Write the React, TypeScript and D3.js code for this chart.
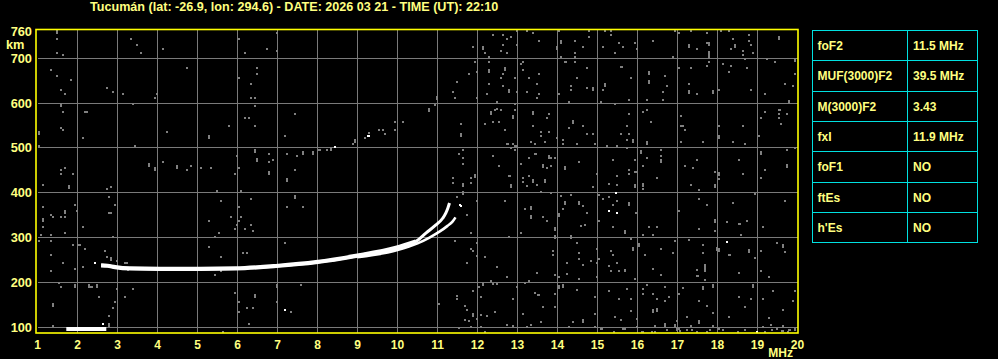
import React from "react";
import * as d3 from "d3";

const titleText = "Tucumán (lat: -26.9, lon: 294.6) - DATE: 2026 03 21 - TIME (UT): 22:10";
const freqTicks = [1, 2, 3, 4, 5, 6, 7, 8, 9, 10, 11, 12, 13, 14, 15, 16, 17, 18, 19, 20];
const heightTicks = [100, 200, 300, 400, 500, 600, 700, 760];
const gridHeights = [100, 200, 300, 400, 500, 600, 700];
const gridFreqs = [2, 3, 4, 5, 6, 7, 8, 9, 10, 11, 12, 13, 14, 15, 16, 17, 18, 19];

const paramNames = ["foF2", "MUF(3000)F2", "M(3000)F2", "fxI", "foF1", "ftEs", "h'Es"];
const paramValues = ["11.5 MHz", "39.5 MHz", "3.43", "11.9 MHz", "NO", "NO", "NO"];

// O trace (MHz, km)
const oTraceFreq = [2.59, 2.75, 2.94, 3.31, 4.06, 5.06, 5.96, 6.96, 7.96, 8.96, 9.96, 10.46, 10.71, 10.96, 11.13, 11.21, 11.26, 11.3];
const oTraceHeight = [238, 237, 234, 231, 230, 230, 231, 236.5, 245, 259, 277, 291, 310, 328, 343, 355, 366, 377];
// X trace
const xTraceFreq = [9.0, 10.0, 10.5, 10.8, 11.05, 11.25, 11.38, 11.45];
const xTraceHeight = [256, 272, 287, 300, 313, 326, 336, 345];
// E trace
const eTraceFreq = [1.72, 2.72];
const eTraceHeight = [96, 96];

const whiteDots: [number, number][] = [
  [2.44, 244], [7.19, 138], [2.64, 107], [8.43, 503], [9.25, 527], [9.28, 527], [15.28, 360], [15.48, 355],
  [18.23, 290], [18.98, 90], [15.46, 400], [11.57, 373], [11.59, 370],
];

const noiseDots: [number, number][] = [
  [1.49,743],[1.49,711],[1.63,707],[3.34,743],[3.49,729],[3.59,711],[4.13,720],[6.03,743],[6.18,711],[6.73,720],[6.98,756],[6.98,716],[1.33,674],[1.49,661],[1.84,652],[1.59,630],[1.69,620],[2.73,633],[2.89,625],[3.14,620],[3.98,620],[3.94,611],[4.74,678],[6.03,656],[6.34,642],[6.48,678],[6.48,665],[6.34,611],[6.44,611],[6.44,593],[1.64,580],[2.19,580],[2.23,580],[3.39,598],[6.18,566],[6.28,566],[6.44,548],[5.78,548],[7.44,575],[1.59,544],[1.64,540],[2.14,522],[4.24,535],[7.19,526],[3.44,504],[1.03,504],[9.94,557],[10.14,557],[9.54,540],[9.64,540],[9.69,531],[9.94,540],[8.89,508],[8.03,495],[8.06,495],[8.23,495],[7.24,486],[7.48,482],[6.78,486],[6.89,473],[6.78,468],[5.98,482],[4.13,468],[4.84,459],[4.74,450],[5.09,455],[5.34,455],[6.04,455],[5.94,441],[1.59,450],[1.69,455],[1.59,441],[1.89,441],[7.44,450],[7.24,430],[9.19,523],[9.29,533],
  [1.14,417],[2.74,408],[2.84,413],[5.49,404],[6.09,404],[7.24,426],[2.79,390],[2.94,373],[5.59,381],[6.34,386],[7.24,368],[7.64,368],[6.04,368],[1.14,368],[1.94,373],[1.99,359],[1.34,350],[1.39,346],[1.59,346],[1.69,346],[2.79,355],[2.83,355],[5.84,346],[6.09,346],[5.29,337],[6.04,337],[5.99,328],[6.34,328],[6.19,319],[6.39,315],[5.94,319],[2.14,323],[1.14,323],[1.09,306],[1.34,306],[1.69,310],[5.54,310],[5.44,301],[2.89,301],[7.19,288],[1.04,292],[1.34,292],[2.02,283],[2.06,283],[1.89,283],[2.19,274],[5.29,279],[2.69,270],[6.14,265],[6.24,265],[5.59,257],[1.34,261],[2.74,257],[1.64,243],[2.14,234],[1.94,230],[1.34,225],[5.44,216],[5.59,225],[1.54,198],[1.59,190],[2.34,190],[2.37,190],[2.99,185],[3.39,185],[7.59,194],[5.94,176],[2.54,167],[3.19,167],[2.94,156],[2.89,143],[6.04,156],[6.99,156],[6.24,143],[6.39,143],[6.04,134],[7.34,134],[2.79,125],[6.29,107],[1.39,102],[5.64,89],[2.99,248],[3.19,243],[3.23,243],[3.26,228],
  [12.39,752],[12.64,752],[12.84,747],[12.99,761],[12.74,743],[12.64,729],[12.99,729],[11.89,725],[12.19,711],[12.29,703],[12.59,716],[12.74,711],[13.24,761],[13.39,756],[13.54,738],[14.04,761],[14.44,738],[14.44,711],[14.44,703],[14.09,703],[14.79,761],[14.79,747],[14.64,725],[15.19,761],[15.34,761],[15.34,752],[15.14,725],[15.54,734],[15.64,725],[15.94,734],[15.99,720],[15.44,711],[16.39,738],[16.89,703],[16.94,761],[17.04,756],[17.34,761],[17.74,756],[17.49,720],[17.74,734],[17.79,691],[18.09,761],[18.29,761],[18.39,743],[18.34,720],[18.79,752],[18.79,738],[18.84,729],[18.64,716],[18.64,707],[18.89,711],[18.69,698],[11.94,691],[11.79,665],[11.99,669],[11.49,647],[11.39,624],[11.44,611],[10.94,595],[12.29,691],[12.64,665],[12.59,656],[12.94,656],[12.29,642],[12.64,638],[12.24,620],[11.99,611],[12.49,602],[12.99,624],[13.14,691],[13.09,687],[13.14,673],[13.29,656],[13.54,665],[13.49,642],[13.54,620],[13.49,611],[13.24,624],[14.19,691],[14.22,691],[14.44,691],[14.74,678],[14.49,656],[14.34,638],[14.34,629],[14.04,620],[14.74,633],[14.29,602],[15.14,629],[15.09,602],[15.59,680],[15.62,680],[15.84,656],[15.79,607],[16.69,660],[16.74,638],[16.64,624],[16.64,607],[16.24,607],[17.04,678],[17.34,678],[17.74,682],[17.29,642],[17.49,620],[18.04,629],[18.14,687],[18.29,669],[18.34,682],[18.74,678],[18.84,629],[19.19,620],[19.24,698],[19.44,691],[19.94,665],[19.69,642],[19.89,638],[19.19,580],[19.09,566],[19.54,584],[19.57,584],[19.54,575],[19.54,566],[19.74,575],[19.59,553],[19.04,526],[18.64,548],[18.69,508],[18.04,548],[18.39,513],[17.64,513],[17.09,571],[17.09,548],[17.13,548],[17.19,540],[17.09,513],[16.34,557],[16.24,584],[16.14,580],[15.79,575],[15.74,548],[15.59,531],[15.74,517],[15.79,531],[15.49,504],[15.24,504],[15.44,598],[14.94,508],[14.89,531],[14.74,531],[14.49,508],[14.64,548],[14.29,544],[14.14,517],[14.14,508],[13.99,522],[13.79,575],[13.74,566],[13.39,548],[13.59,535],[13.59,526],[13.79,535],[13.69,513],[13.44,508],[13.34,513],[12.94,598],[12.94,584],[12.59,584],[12.49,586],[12.44,584],[12.39,557],[12.54,557],[12.19,553],[12.69,540],[12.74,508],[12.77,508],[12.89,508],[12.94,504],[12.84,499],[12.99,504],[11.59,553],[11.64,495],[11.54,486],[11.64,477],[11.64,464],[11.39,432],[11.84,432],[12.39,482],[12.54,459],[12.79,437],[12.82,437],[12.94,495],[13.09,464],[13.14,432],[13.29,477],[13.44,486],[13.47,486],[13.29,437],[13.39,428],[13.74,455],[13.84,459],[13.84,477],[13.94,477],[13.69,428],[14.54,468],[14.99,441],[15.39,473],[15.49,437],[15.79,450],[15.79,441],[15.94,473],[15.94,446],[15.97,446],[15.74,499],[16.24,477],[16.14,459],[16.59,495],[16.59,482],[16.49,432],[17.19,459],[17.39,455],[17.49,473],[17.94,446],[18.04,430],[18.54,473],[18.64,441],[19.19,450],[19.09,432],[19.74,495],[19.94,499],
  [11.39,422],[11.84,422],[11.49,390],[11.74,350],[11.84,310],[11.44,292],[11.84,274],[11.89,270],[11.99,259],[12.19,257],[11.74,243],[12.49,234],[11.99,381],[11.99,288],[13.14,424],[13.24,415],[13.39,424],[13.49,417],[13.69,424],[13.59,402],[13.84,399],[12.69,381],[13.19,364],[13.64,346],[13.74,337],[13.09,310],[12.79,301],[14.14,364],[14.09,393],[14.34,395],[14.74,355],[14.64,370],[14.89,413],[14.59,326],[14.69,328],[14.49,288],[13.89,270],[14.24,243],[14.54,265],[14.54,252],[14.84,248],[14.64,239],[15.04,395],[15.14,386],[15.29,390],[15.29,419],[15.49,417],[15.39,373],[15.49,381],[16.14,408],[15.96,355],[15.39,323],[15.04,337],[15.34,270],[15.39,261],[14.99,274],[15.04,252],[15.29,236],[15.34,225],[15.54,225],[15.69,225],[15.84,297],[16.14,306],[16.29,323],[16.49,323],[16.39,306],[16.59,274],[16.19,261],[16.89,265],[16.94,292],[17.04,359],[17.34,417],[17.54,406],[17.54,386],[17.74,373],[17.54,319],[17.29,294],[17.64,283],[17.94,315],[18.24,335],[18.39,377],[18.54,330],[18.57,330],[18.74,337],[18.59,306],[18.94,397],[19.14,323],[19.69,381],[19.49,288],[19.69,268],[19.09,270],[18.94,254],[19.29,212],[19.09,225],[18.54,221],[18.29,261],[18.32,261],[17.64,265],[17.49,227],[17.49,214],[17.52,214],[17.69,205],[17.14,187],[17.04,174],[16.59,216],[16.39,230],[15.94,207],[15.69,228],[15.49,243],[14.99,212],[14.99,243],[14.54,207],[14.49,183],[14.04,212],[14.24,219],[13.94,216],[13.89,261],[13.49,221],[13.19,199],[13.29,203],[13.44,176],[13.51,172],[13.54,172],[12.99,190],[12.89,163],[12.74,212],[12.49,196],[12.39,196],[12.34,203],[12.04,190],[11.89,181],[11.49,170],[11.49,163],[11.04,152],[11.69,147],[11.74,138],[11.99,118],[11.69,116],[11.79,114],[12.09,127],[12.24,125],[12.09,167],[12.09,100],[11.54,98],[12.19,89],[11.84,100],[12.44,134],[12.74,105],[12.89,102],[13.14,129],[13.34,105],[13.24,100],[13.59,111],[13.64,145],[13.94,145],[13.94,174],[14.29,100],[14.39,111],[14.94,167],[14.94,129],[14.94,100],[15.09,96],[15.29,181],[15.44,123],[15.54,163],[15.64,96],[15.74,185],[15.84,163],[15.84,136],[15.59,116],[15.99,118],[15.99,100],[16.14,185],[16.14,174],[16.24,194],[16.39,174],[16.49,163],[16.69,190],[16.79,167],[16.69,158],[16.44,102],[16.99,114],[17.04,96],[17.24,123],[17.54,158],[17.34,102],[17.74,147],[17.89,132],[17.89,102],[18.04,96],[18.29,123],[18.54,167],[18.69,145],[18.84,163],[19.14,163],[19.39,181],[19.64,138],[19.64,102],[19.94,181],[19.89,158],[19.34,105],[19.49,96],[19.14,100],[19.79,94],[19.82,94],[19.94,98],[19.29,120],
  [15.10,97],[15.40,90],[15.69,97],[16.10,90],[16.13,90],[16.35,90],[16.44,90],[16.73,93],[17.06,92],[17.23,93],[17.35,93],[17.48,90],[17.73,90],[17.81,93],[18.15,93],[18.52,90],[18.69,93],[19.19,90],[19.35,93],[19.60,92],[19.63,92],[19.77,90],[19.94,93],
];

const noiseTall: [number, number][] = [
  [1.49,759],[1.59,595],[1.03,533],[5.28,524],[8.94,515],[8.33,497],[7.63,488],[7.88,488],[6.48,473],[6.43,493],[3.79,461],[3.94,453],[4.49,457],[6.79,444],
  [1.79,412],[7.44,390],[1.69,357],[1.14,339],[2.84,252],[1.94,192],[2.29,192],[2.49,192],[6.99,192],[6.44,169],[1.39,149],[2.79,105],
  [12.14,723],[14.09,736],[13.99,723],[17.29,727],[17.79,732],[17.79,712],[17.79,702],[18.44,727],[19.54,745],[10.99,611],[10.79,584],[12.29,671],[12.69,676],[12.79,627],[14.89,631],[15.19,640],[16.29,667],[16.29,647],[17.29,624],[17.89,624],[19.94,696],[19.79,602],[18.04,524],[15.89,515],[16.24,511],[14.39,557],[13.39,577],[12.89,569],[12.34,577],[11.59,528],[11.94,437],[13.64,459],[13.79,479],[14.19,455],[16.09,490],[16.59,470],[18.04,441],[19.09,488],[19.74,459],
  [11.64,417],[11.64,399],[12.84,415],[13.34,366],[13.34,346],[13.94,319],[13.94,301],[14.04,350],[14.19,377],[14.54,377],[14.34,301],[15.79,375],[15.94,415],[16.14,417],[15.69,312],[15.89,274],[16.04,283],[17.94,415],[17.94,337],[17.99,274],[18.79,270],[18.04,272],[19.64,281],[17.69,227],[17.69,237],[17.64,187],[17.89,192],[14.04,190],[14.14,192],[12.14,196],[11.89,127],[14.64,114],[16.39,136],[16.49,138],[16.69,105],[16.94,102],[17.54,111],[18.89,192],
  [16.98,96],
];

const W = 998;
const H = 359;
const FONT = "'Liberation Sans', Arial, sans-serif";
const TEXT = "#ffff80";
const GRID = "#7a7a7a";
const NOISE = "#808080";
const CYAN = "#00e0e0";

export default function App() {
  const x = d3.scaleLinear().domain([1, 20]).range([37.5, 797.5]);
  const y = d3.scaleLinear().domain([87, 763]).range([333, 30]);

  const line = d3
    .line<[number, number]>()
    .x((d) => x(d[0]))
    .y((d) => y(d[1]))
    .curve(d3.curveMonotoneX);

  const oPts: [number, number][] = oTraceFreq.map((f, i) => [f, oTraceHeight[i]]);
  const oThick = oPts.filter((p) => p[0] <= 10.5);
  const xPts: [number, number][] = xTraceFreq.map((f, i) => [f, xTraceHeight[i]]);
  const ePts: [number, number][] = eTraceFreq.map((f, i) => [f, eTraceHeight[i]]);

  const tableX0 = 812;
  const tableX1 = 977;
  const tableXMid = 907;
  const tableY0 = 30.5;
  const rowH = 30.3;

  return (
    <svg
      width={W}
      height={H}
      style={{ position: "absolute", left: 0, top: 0, display: "block" }}
      fontFamily={FONT}
    >
      <rect x={0} y={0} width={W} height={H} fill="#000" />
      <text x={90} y={10.5} fill={TEXT} fontSize={12.6} fontWeight="bold">
        {titleText}
      </text>

      {/* grid */}
      <g stroke={GRID} strokeWidth={1} shapeRendering="crispEdges">
        {gridFreqs.map((f) => (
          <line key={"v" + f} x1={x(f)} x2={x(f)} y1={y(763)} y2={y(87)} />
        ))}
        {gridHeights.map((h) => (
          <line key={"h" + h} x1={x(1)} x2={x(20)} y1={Math.floor(y(h)) + 0.5} y2={Math.floor(y(h)) + 0.5} />
        ))}
      </g>

      {/* noise */}
      <g fill={NOISE} shapeRendering="crispEdges">
        {noiseDots.map((d, i) => (
          <rect key={"n" + i} x={Math.round(x(d[0]) - 1)} y={Math.round(y(d[1]) - 1)} width={2} height={2} />
        ))}
        {noiseTall.map((d, i) => (
          <rect key={"t" + i} x={Math.round(x(d[0]) - 1)} y={Math.round(y(d[1]) - 2)} width={2} height={4} />
        ))}
      </g>

      {/* traces */}
      <g fill="none" stroke="#fff" strokeLinejoin="round">
        <path d={line(ePts) || ""} strokeWidth={4} strokeLinecap="butt" />
        <path d={line(oPts) || ""} strokeWidth={3} strokeLinecap="butt" />
        <path d={line(oThick) || ""} strokeWidth={4.2} strokeLinecap="butt" />
        <path d={line(xPts) || ""} strokeWidth={2.6} strokeLinecap="butt" />
      </g>
      <g fill="#fff" shapeRendering="crispEdges">
        {whiteDots.map((d, i) => (
          <rect key={"w" + i} x={Math.round(x(d[0]) - 1)} y={Math.round(y(d[1]) - 1)} width={2} height={2} />
        ))}
      </g>

      {/* frame */}
      <rect x={36} y={29.5} width={762} height={303.5} fill="none" stroke="#ffff00" strokeWidth={1.6} />

      {/* y labels */}
      <g fill={TEXT} fontSize={12.8} fontWeight="bold" textAnchor="end">
        {heightTicks.map((h) => (
          <text key={"yl" + h} x={32} y={y(h) + 4.5}>
            {h}
          </text>
        ))}
      </g>
      <text x={6} y={49} fill={TEXT} fontSize={12.8} fontWeight="bold">
        km
      </text>

      {/* x labels */}
      <g fill={TEXT} fontSize={12} fontWeight="bold" textAnchor="middle">
        {freqTicks.map((f) => (
          <text key={"xl" + f} x={x(f)} y={348.5}>
            {f}
          </text>
        ))}
      </g>
      <text x={793} y={356.5} fill={TEXT} fontSize={12} fontWeight="bold" textAnchor="end">
        MHz
      </text>

      {/* table */}
      <g stroke={CYAN} strokeWidth={1} fill="none" shapeRendering="crispEdges">
        <rect x={tableX0} y={tableY0} width={tableX1 - tableX0} height={rowH * paramNames.length} />
        <line x1={tableXMid} x2={tableXMid} y1={tableY0} y2={tableY0 + rowH * paramNames.length} />
        {paramNames.slice(1).map((_, i) => (
          <line key={"tr" + i} x1={tableX0} x2={tableX1} y1={tableY0 + rowH * (i + 1)} y2={tableY0 + rowH * (i + 1)} />
        ))}
      </g>
      <g fill={TEXT} fontSize={12} fontWeight="bold">
        {paramNames.map((n, i) => (
          <text key={"pn" + i} x={817.5} y={tableY0 + rowH * i + rowH / 2 + 4.5}>
            {n}
          </text>
        ))}
        {paramValues.map((v, i) => (
          <text key={"pv" + i} x={913} y={tableY0 + rowH * i + rowH / 2 + 4.5}>
            {v}
          </text>
        ))}
      </g>
    </svg>
  );
}
